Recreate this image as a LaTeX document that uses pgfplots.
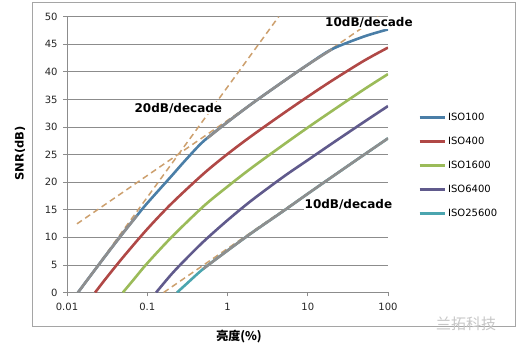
\documentclass[border=0pt]{standalone}
\usepackage{fontspec}
\setmainfont{DejaVu Sans}
\newfontfamily\cjk{Noto Sans CJK SC}
\usepackage{pgfplots}
\pgfplotsset{compat=1.18}
\definecolor{cA}{RGB}{74,126,167}
\definecolor{cB}{RGB}{176,72,70}
\definecolor{cC}{RGB}{155,187,89}
\definecolor{cD}{RGB}{96,90,140}
\definecolor{cE}{RGB}{75,165,175}
\definecolor{gridc}{RGB}{140,140,140}
\definecolor{ovl}{RGB}{142,142,142}
\definecolor{tan}{RGB}{205,160,110}
\definecolor{frame}{RGB}{165,165,165}
\begin{document}
\begin{tikzpicture}[x=1pt,y=1pt]
\useasboundingbox (0,0) rectangle (517,352);
\fill[white] (0,0) rectangle (517,352);
\draw[line width=0.8pt, frame] (32,26) rectangle (515,350);
\begin{axis}[
  at={(67pt,59.5pt)}, anchor=south west,
  scale only axis, width=321pt, height=275.8pt,
  xmode=log, xmin=0.01, xmax=100, ymin=0, ymax=50,
  axis lines*=left,
  axis line style={draw=gridc, line width=0.8pt},
  xtick={0.01,0.1,1,10,100}, xticklabels={0.01,0.1,1,10,100},
  xminorticks=false,
  ytick={0,5,...,50},
  ymajorgrids, grid style={gridc, line width=0.8pt},
  tick align=outside, major tick length=4pt,
  tick style={gridc, line width=0.8pt},
  ticklabel style={font=\fontsize{10}{12}\selectfont, color=black!85},
  /pgf/number format/assume math mode=true,
  yticklabel style={xshift=-2pt},
  xticklabel style={yshift=-3pt},
  clip mode=individual,
  legend style={at={(1.084,0.665)}, anchor=north west, draw=none, fill=none,
    font=\fontsize{10}{12}\selectfont, row sep=11pt},
  legend cell align=left,
  legend image code/.code={\draw[#1, line width=3pt] (0pt,0pt) -- (25pt,0pt);},
  every axis plot/.append style={line width=2.6pt},
]
% asymptotes (drawn beneath the curves)
\addplot[forget plot, tan, line width=1.5pt, dash pattern=on 6pt off 4pt] coordinates {(0.0137,0) (4.34,50)};
\addplot[forget plot, tan, line width=1.5pt, dash pattern=on 6pt off 4pt] coordinates {(0.0133,12.44) (75.9,50)};
\addplot[forget plot, tan, line width=1.5pt, dash pattern=on 6pt off 4pt] coordinates {(0.16,0) (100,27.96)};
\addplot[cA, smooth] coordinates {(0.0137,0) (0.02,3.2) (0.03,6.6) (0.05,10.8) (0.075,14.0) (0.1,16.2) (0.2,21.1) (0.3,24.0) (0.5,27.4) (1,30.9) (2,34.2) (5,38.3) (10,41.3) (20,44.1) (50,46.4) (100,47.7)};
\addlegendentry{ISO100}
\addplot[cB, smooth] coordinates {(0.0224,0) (0.03,2.4) (0.05,6.4) (0.1,11.5) (0.2,16.1) (0.5,21.5) (1,25.1) (2,28.4) (5,32.5) (10,35.5) (20,38.4) (50,42.0) (100,44.4)};
\addlegendentry{ISO400}
\addplot[cC, smooth] coordinates {(0.0497,0) (0.07,2.6) (0.1,5.3) (0.2,10.0) (0.5,15.6) (1,19.2) (2,22.6) (5,26.8) (10,29.9) (20,32.9) (50,36.8) (100,39.6)};
\addlegendentry{ISO1600}
\addplot[cD, smooth] coordinates {(0.129,0) (0.2,3.3) (0.3,6.0) (0.5,9.2) (1,13.1) (2,16.7) (5,21.0) (10,24.0) (20,27.0) (50,30.9) (100,33.8)};
\addlegendentry{ISO6400}
\addplot[cE, smooth] coordinates {(0.235,0) (0.3,1.4) (0.5,4.3) (1,7.6) (2,10.8) (5,14.8) (10,17.9) (20,20.95) (50,24.95) (100,27.95)};
\addlegendentry{ISO25600}
% grey overlays where asymptote meets curve
\addplot[forget plot, ovl, smooth] coordinates {(0.0137,0) (0.02,3.2) (0.03,6.6) (0.05,10.8) (0.075,14.0)};
\addplot[forget plot, ovl, smooth] coordinates {(0.56,27.95) (1,30.9) (2,34.2) (5,38.3) (10,41.3) (20,44.1)};
\addplot[forget plot, ovl, smooth] coordinates {(0.5,4.3) (1,7.6) (2,10.8) (5,14.8) (10,17.9) (20,20.95) (50,24.95) (100,27.95)};
\node[fill=white, inner sep=1pt, font=\bfseries\fontsize{12}{14}\selectfont] at (axis cs:0.244,33.4) {20dB/decade};
\node[fill=white, inner sep=1pt, font=\bfseries\fontsize{12}{14}\selectfont] at (axis cs:57.9,48.9) {10dB/decade};
\node[fill=white, inner sep=1pt, font=\bfseries\fontsize{12}{14}\selectfont] at (axis cs:32.1,16.0) {10dB/decade};
\end{axis}
\node[rotate=90, font=\bfseries\fontsize{11.5}{13}\selectfont] at (20,198.5) {SNR(dB)};
\node[font=\cjk\bfseries\fontsize{12}{14}\selectfont] at (239,15) {亮度(\%)};
\node[text=black!22, font=\cjk\fontsize{15}{16}\selectfont] at (466,28) {兰拓科技};
\end{tikzpicture}
\end{document}
